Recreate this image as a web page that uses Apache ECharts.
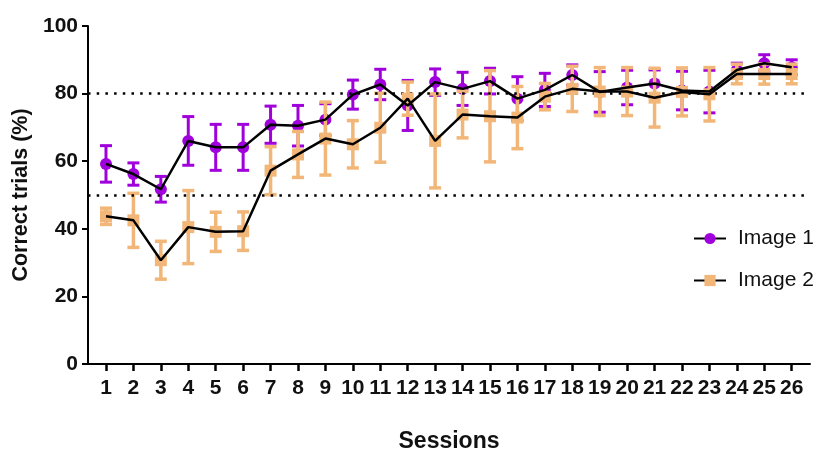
<!DOCTYPE html>
<html>
<head>
<meta charset="utf-8">
<script src="https://cdn.jsdelivr.net/npm/echarts@6/dist/echarts.min.js"></script>
<style>
  html, body { margin: 0; padding: 0; background: #fff; }
  #chart { width: 827px; height: 458px; }
</style>
</head>
<body>
<div id="chart"></div>
<script>
// Sessions along the x axis
const sessions = [1, 2, 3, 4, 5, 6, 7, 8, 9, 10, 11, 12, 13, 14, 15, 16, 17, 18, 19, 20, 21, 22, 23, 24, 25, 26];

// Image 1: mean correct trials (%) and error (+/-)
const image1Mean = [59.2, 56.2, 51.7, 66.0, 64.1, 64.1, 70.8, 70.5, 72.3, 79.7, 82.7, 76.5, 83.4, 81.4, 83.7, 78.5, 81.1, 85.5, 80.5, 81.8, 83.0, 80.9, 80.6, 87.0, 89.0, 87.8];
const image1Err  = [5.4, 3.3, 3.8, 7.2, 6.8, 6.8, 5.5, 6.0, 4.7, 4.3, 4.5, 7.4, 3.9, 4.9, 3.8, 6.5, 4.9, 3.0, 6.0, 5.1, 4.0, 5.7, 6.3, 2.0, 2.5, 2.2];

// Image 2: mean correct trials (%) and error (+/-)
const image2Mean = [43.7, 42.5, 30.7, 40.5, 39.1, 39.3, 57.2, 62.0, 66.7, 65.0, 69.9, 78.5, 66.0, 73.8, 73.3, 72.9, 79.1, 81.4, 80.6, 80.6, 78.8, 80.5, 79.8, 85.8, 85.8, 85.8];
const image2Err  = [2.4, 8.0, 5.6, 10.8, 5.8, 5.7, 7.1, 6.8, 10.8, 7.0, 10.2, 4.9, 13.9, 6.9, 13.5, 9.2, 3.9, 6.7, 7.1, 7.1, 8.7, 7.1, 7.9, 2.9, 3.0, 2.9];

// Dotted reference levels
const refLevels = [80, 50];
const yTicks = [0, 20, 40, 60, 80, 100];

const PURPLE = '#A000DC';
const ORANGE = '#F2B778';
const FONT = '"Liberation Sans", Arial, sans-serif';
const INK = '#111';

const pts = (means) => sessions.map((s, i) => [s, means[i]]);
const bars = (means, errs) => sessions.map((s, i) => [s, means[i] - errs[i], means[i] + errs[i]]);

function errorBar(color, capW, lw) {
  return function (params, api) {
    const x = api.value(0);
    const lo = api.coord([x, api.value(1)]);
    const hi = api.coord([x, api.value(2)]);
    const h = capW / 2;
    const style = { stroke: color, lineWidth: lw, fill: null };
    return {
      type: 'group',
      children: [
        { type: 'line', shape: { x1: lo[0], y1: lo[1], x2: hi[0], y2: hi[1] }, style },
        { type: 'line', shape: { x1: hi[0] - h, y1: hi[1], x2: hi[0] + h, y2: hi[1] }, style },
        { type: 'line', shape: { x1: lo[0] - h, y1: lo[1], x2: lo[0] + h, y2: lo[1] }, style }
      ]
    };
  };
}

const chart = echarts.init(document.getElementById('chart'), null, { renderer: 'canvas' });

chart.setOption({
  animation: false,
  backgroundColor: '#fff',
  grid: { left: 88, right: 17, top: 26, bottom: 92, containLabel: false },
  legend: {
    orient: 'vertical',
    left: 688,
    top: 223,
    data: ['Image 1', 'Image 2'],
    itemWidth: 32,
    itemHeight: 14,
    itemGap: 21,
    textStyle: { fontFamily: FONT, fontSize: 21, color: INK, padding: [0, 0, 0, 7] }
  },
  xAxis: {
    type: 'value',
    min: 0.344,
    max: 26.667,
    name: 'Sessions',
    nameLocation: 'middle',
    nameGap: 66,
    nameTextStyle: { fontFamily: FONT, fontSize: 23, fontWeight: 'bold', color: INK },
    splitLine: { show: false },
    axisLine: { lineStyle: { color: '#000', width: 2 } },
    axisTick: { show: true, length: 7, lineStyle: { color: '#000', width: 2.5 }, customValues: sessions },
    axisLabel: {
      customValues: sessions,
      margin: 14,
      fontFamily: FONT, fontSize: 21, fontWeight: 'bold', color: INK
    }
  },
  yAxis: {
    type: 'value',
    min: 0,
    max: 100,
    interval: 20,
    name: 'Correct trials (%)',
    nameLocation: 'middle',
    nameGap: 51,
    nameTextStyle: { fontFamily: FONT, fontSize: 21.5, fontWeight: 'bold', color: INK },
    splitLine: { show: false },
    axisLine: { show: true, lineStyle: { color: '#000', width: 2 } },
    axisTick: { show: true, length: 6, lineStyle: { color: '#000', width: 2 }, customValues: yTicks },
    axisLabel: {
      customValues: yTicks,
      margin: 10,
      fontFamily: FONT, fontSize: 21, fontWeight: 'bold', color: INK
    }
  },
  series: [
    {
      name: 'Image 1 error',
      type: 'custom',
      renderItem: errorBar(PURPLE, 12, 3),
      data: bars(image1Mean, image1Err),
      encode: { x: 0, y: [1, 2] },
      z: 2,
      silent: true,
      markLine: {
        silent: true,
        symbol: ['none', 'none'],
        label: { show: false },
        lineStyle: { color: '#000', type: [2.5, 6.2], width: 2.5 },
        data: refLevels.map(v => ({ yAxis: v }))
      }
    },
    {
      name: 'Image 1 points',
      type: 'scatter',
      data: pts(image1Mean),
      symbol: 'circle',
      symbolSize: 12,
      itemStyle: { color: PURPLE, opacity: 1 },
      z: 3,
      silent: true
    },
    {
      name: 'Image 2 error',
      type: 'custom',
      renderItem: errorBar(ORANGE, 12, 3.5),
      data: bars(image2Mean, image2Err),
      encode: { x: 0, y: [1, 2] },
      z: 4,
      silent: true
    },
    {
      name: 'Image 2 points',
      type: 'scatter',
      data: pts(image2Mean),
      symbol: 'rect',
      symbolSize: 12,
      itemStyle: { color: ORANGE, opacity: 1 },
      z: 5,
      silent: true
    },
    {
      name: 'Image 1',
      type: 'line',
      data: pts(image1Mean),
      symbol: 'circle',
      symbolSize: 11,
      showSymbol: false,
      itemStyle: { color: PURPLE },
      lineStyle: { color: '#000', width: 2.5 },
      z: 6
    },
    {
      name: 'Image 2',
      type: 'line',
      data: pts(image2Mean),
      symbol: 'rect',
      symbolSize: 11,
      showSymbol: false,
      itemStyle: { color: ORANGE },
      lineStyle: { color: '#000', width: 2.5 },
      z: 6
    }
  ]
});
</script>
</body>
</html>
